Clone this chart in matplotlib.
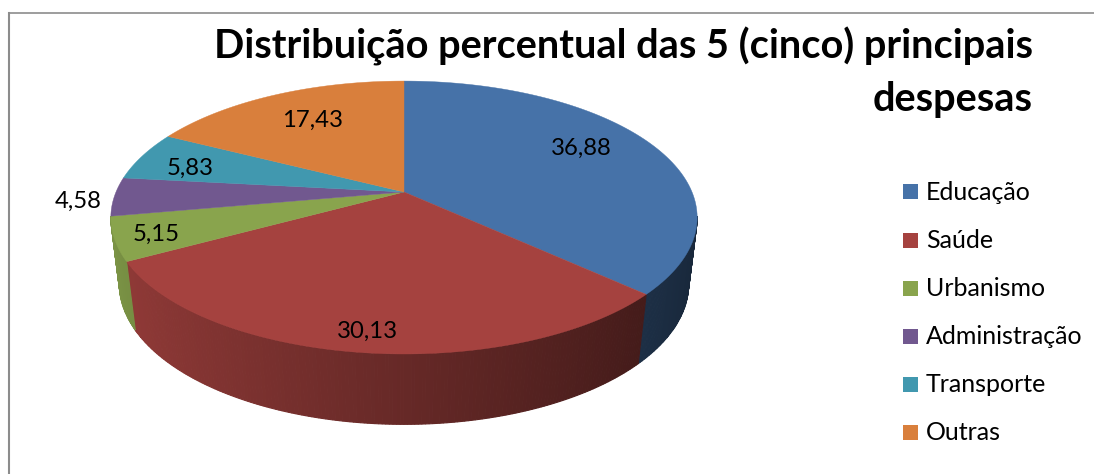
#!/usr/bin/env python3
"""Pizza 3D: distribuição percentual das principais despesas"""
import matplotlib
matplotlib.use('Agg')
import matplotlib.pyplot as plt
import matplotlib.patches as patches
import numpy as np

plt.rcParams['font.family'] = ['Lato', 'DejaVu Sans']

categories = ['Educação', 'Saúde', 'Urbanismo', 'Administração', 'Transporte', 'Outras']
values = [36.88, 30.13, 5.15, 4.58, 5.83, 17.43]
colors = ['#4672A8', '#A5423F', '#89A44D', '#71588F', '#4198AF', '#D97F3C']
title_lines = ['Distribuição percentual das 5 (cinco) principais', 'despesas']

# posicoes em pixels da imagem
label_pos = [(581, 148.5), (367, 331), (156, 234.5), (78, 201), (190, 168), (313, 120.5)]
legend_y = [192, 240.5, 288.5, 336.5, 384.5, 432.5]


def top_rim(t):
    """Projeta o circulo (t em radianos, horario a partir do topo) no topo da pizza"""
    X, Y = np.sin(t), -np.cos(t)
    d = 1 - 0.187 * Y
    return 404 + 288 * X / d, 192 + 131.7 * Y / d


def bottom_rim(t):
    X, Y = np.sin(t), -np.cos(t)
    d = 1 - 0.18 * Y
    return 404 + 280 * X / d, 258.5 + 136 * Y / d


fig, ax = plt.subplots(1, 1, figsize=(10.94, 4.74), dpi=100)
ax.set_position([0, 0, 1, 1])
ax.set_xlim(0, 1094)
ax.set_ylim(474, 0)
ax.axis('off')

# moldura
ax.plot([9, 9], [474, 13], color='#8C8C8C', linewidth=1.5)
ax.plot([9, 1094], [13, 13], color='#8C8C8C', linewidth=1.2)

edges = np.cumsum([0] + values) / sum(values) * 2 * np.pi

# parede lateral, em fatias estreitas para o degrade
for i, color in enumerate(colors):
    ts = np.linspace(edges[i], edges[i + 1], max(int(values[i] * 6), 2))
    base = np.array(matplotlib.colors.to_rgb(color))
    for t0, t1 in zip(ts[:-1], ts[1:]):
        # so a parte da frente aparece
        if np.cos((t0 + t1) / 2) > -0.175:
            continue
        x0, y0 = top_rim(t0)
        x1, y1 = top_rim(t1)
        x2, y2 = bottom_rim(t1)
        x3, y3 = bottom_rim(t0)
        shade = 0.62 - 0.28 * np.sin((t0 + t1) / 2)
        c = base * shade
        ax.add_patch(patches.Polygon([(x0, y0), (x1, y1), (x2, y2), (x3, y3)],
                                     facecolor=c, edgecolor=c, linewidth=0.8))

# topo
for i, color in enumerate(colors):
    ts = np.linspace(edges[i], edges[i + 1], 100)
    xs, ys = top_rim(ts)
    pts = [(404, 192)] + list(zip(xs, ys))
    ax.add_patch(patches.Polygon(pts, facecolor=color, edgecolor=color, linewidth=0.3))

# rotulos
for v, (x, y) in zip(values, label_pos):
    ax.text(x, y, f'{v:.2f}'.replace('.', ','), ha='center', va='center',
            fontsize=17.2, color='black')

# legenda
for name, color, y in zip(categories, colors, legend_y):
    ax.add_patch(patches.Rectangle((903, y - 8), 15, 15, facecolor=color, edgecolor='none'))
    ax.text(926, y, name, ha='left', va='center', fontsize=18, color='black')

# titulo
ax.text(1033, 58, title_lines[0], ha='right', va='baseline', fontsize=28.6, fontweight='bold')
ax.text(1033, 111, title_lines[1], ha='right', va='baseline', fontsize=28.6, fontweight='bold')

fig.savefig('out.png', dpi=100, facecolor='white')
